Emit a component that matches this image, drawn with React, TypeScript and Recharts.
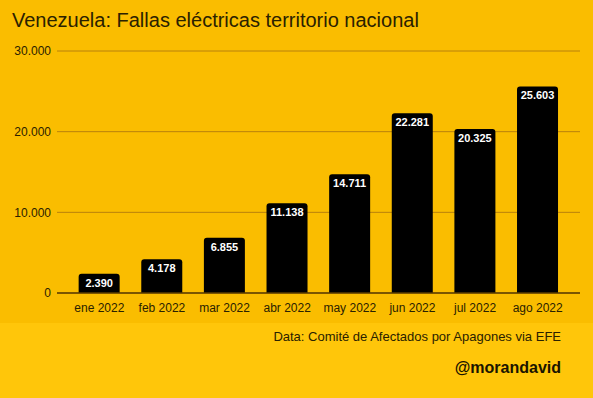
import React from 'react';
import { BarChart, Bar, XAxis, YAxis, CartesianGrid, LabelList } from 'recharts';

const months = ['ene 2022', 'feb 2022', 'mar 2022', 'abr 2022', 'may 2022', 'jun 2022', 'jul 2022', 'ago 2022'];
const fallas = [2390, 4178, 6855, 11138, 14711, 22281, 20325, 25603];
const yTicks = [0, 10000, 20000, 30000];

const data = months.map((m, i) => ({ month: m, value: fallas[i] }));

// spanish style thousands separator
const fmt = (v: number) => String(v).replace(/\B(?=(\d{3})+(?!\d))/g, '.');

const FONT = '"Liberation Sans", Arial, sans-serif';

const App: React.FC = () => {
  return (
    <div style={{ position: 'absolute', left: 0, top: 0, width: 593, height: 398, fontFamily: FONT, background: '#FFC60A', overflow: 'hidden' }}>
      <div style={{ position: 'absolute', left: 0, top: 0, width: 593, height: 323, background: '#FABD00' }} />
      <div style={{ position: 'absolute', left: 12, top: 9, fontSize: 20, color: '#2a2100', whiteSpace: 'nowrap' }}>
        Venezuela: Fallas eléctricas territorio nacional
      </div>
      <div style={{ position: 'absolute', top: 0, left: 0 }}>
        <BarChart width={593} height={323} data={data} margin={{ top: 51, right: 13, bottom: 0, left: 0 }} barCategoryGap="17%">
          <CartesianGrid vertical={false} stroke="#B8800C" strokeWidth={1} />
          <XAxis
            dataKey="month"
            height={30}
            padding={{ left: 11, right: 11 }}
            tickLine={false}
            axisLine={{ stroke: '#5a3d00', strokeWidth: 1.5 }}
            tick={{ fontSize: 12, fill: '#2a2100', fontFamily: FONT }}
            tickMargin={4}
            interval={0}
          />
          <YAxis
            width={57}
            domain={[0, 30000]}
            ticks={yTicks}
            tickFormatter={fmt}
            axisLine={false}
            tickLine={false}
            tickSize={0}
            tickMargin={6}
            tick={{ fontSize: 12, fill: '#2a2100', fontFamily: FONT }}
          />
          <Bar dataKey="value" fill="#000000" radius={[3, 3, 0, 0]} isAnimationActive={false}>
            <LabelList
              dataKey="value"
              position="insideTop"
              offset={5}
              formatter={(v: any) => fmt(Number(v))}
              fill="#ffffff"
              fontSize={11}
              fontWeight="bold"
              fontFamily={FONT}
            />
          </Bar>
        </BarChart>
      </div>
      <div style={{ position: 'absolute', right: 32, top: 329, fontSize: 13, color: '#2a2100', whiteSpace: 'nowrap' }}>
        Data: Comité de Afectados por Apagones via EFE
      </div>
      <div style={{ position: 'absolute', right: 32, top: 359, fontSize: 16, fontWeight: 'bold', color: '#1a1400', whiteSpace: 'nowrap' }}>
        @morandavid
      </div>
    </div>
  );
};

export default App;
